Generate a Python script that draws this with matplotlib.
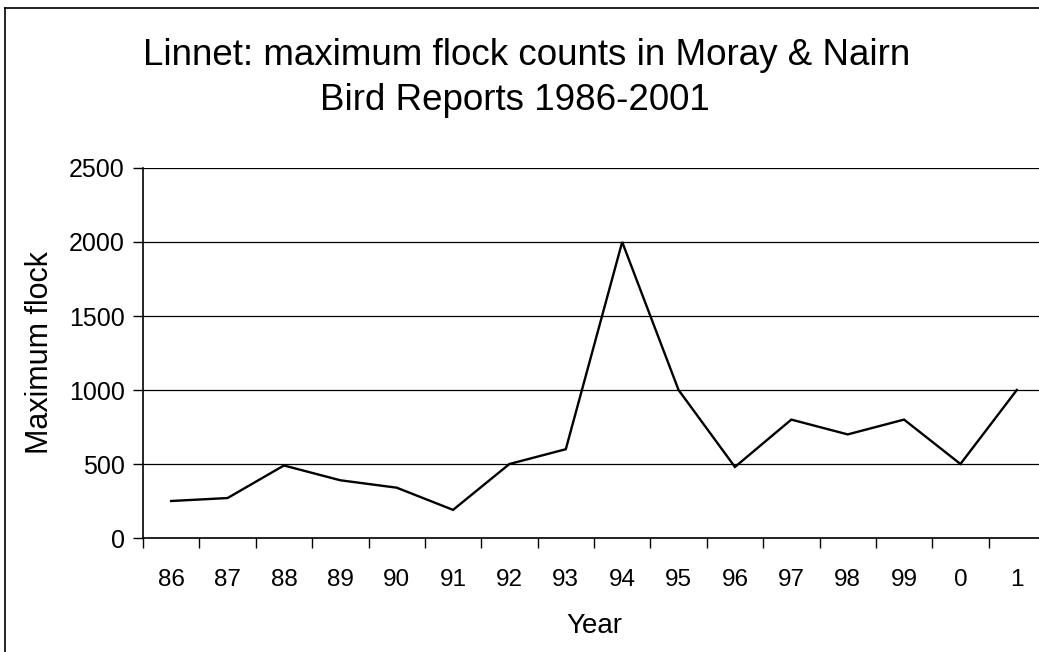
import numpy as np
import matplotlib
matplotlib.use("Agg")
import matplotlib.pyplot as plt
from matplotlib.lines import Line2D

plt.rcParams['font.family'] = ['Liberation Sans', 'DejaVu Sans']

# data
years = ["86", "87", "88", "89", "90", "91", "92", "93",
         "94", "95", "96", "97", "98", "99", "0", "1"]
max_flock = [250, 270, 490, 390, 340, 190, 500, 600,
             2000, 1000, 480, 800, 700, 800, 500, 1000]
y_ticks = [0, 500, 1000, 1500, 2000, 2500]

W, H = 1039, 652
fig = plt.figure(figsize=(W / 100, H / 100), dpi=100)

# plot area in pixels (right edge runs off the picture)
left, right, top, bottom = 143, 1045, 168, 538
ax = fig.add_axes([left / W, 1 - bottom / H, (right - left) / W, (bottom - top) / H])

x = np.arange(len(years))
ax.plot(x, max_flock, color='black', lw=1.7, solid_joinstyle='miter')

ax.set_xlim(-0.5, len(years) - 0.5)
ax.set_ylim(0, 2500)
ax.set_yticks(y_ticks)
ax.set_yticklabels([str(v) for v in y_ticks], fontsize=18)

# ticks sit between categories, labels at centres
ax.set_xticks(np.arange(-0.5, len(years), 1.0))
ax.set_xticklabels([])
ax.set_xticks(x, minor=True)
ax.set_xticklabels(years, minor=True, fontsize=17.5)
ax.tick_params(axis='x', which='major', length=7, width=1, direction='out')
ax.tick_params(axis='x', which='minor', length=0, pad=22)
ax.tick_params(axis='y', length=7, width=1, direction='out', pad=6)

ax.grid(axis='y', color='black', lw=0.9)
ax.set_axisbelow(True)
for s in ['top', 'right']:
    ax.spines[s].set_visible(False)
for s in ['left', 'bottom']:
    ax.spines[s].set_linewidth(1.2)

ax.set_xlabel("Year", fontsize=20, labelpad=16)
ax.set_ylabel("Maximum flock", fontsize=22, labelpad=10)

# two-line title
fig.text(527 / W, 1 - 65 / H, "Linnet: maximum flock counts in Moray & Nairn",
         ha='center', va='baseline', fontsize=26.5)
fig.text(515 / W, 1 - 110 / H, "Bird Reports 1986-2001",
         ha='center', va='baseline', fontsize=26.5)

# outer chart frame (top and left edges visible)
fig.add_artist(Line2D([5 / W, 5 / W], [0, 1 - 8 / H], transform=fig.transFigure,
                      color='black', lw=1.2))
fig.add_artist(Line2D([5 / W, 1], [1 - 8 / H, 1 - 8 / H], transform=fig.transFigure,
                      color='black', lw=1.2))

fig.savefig("out.png", dpi=100)
